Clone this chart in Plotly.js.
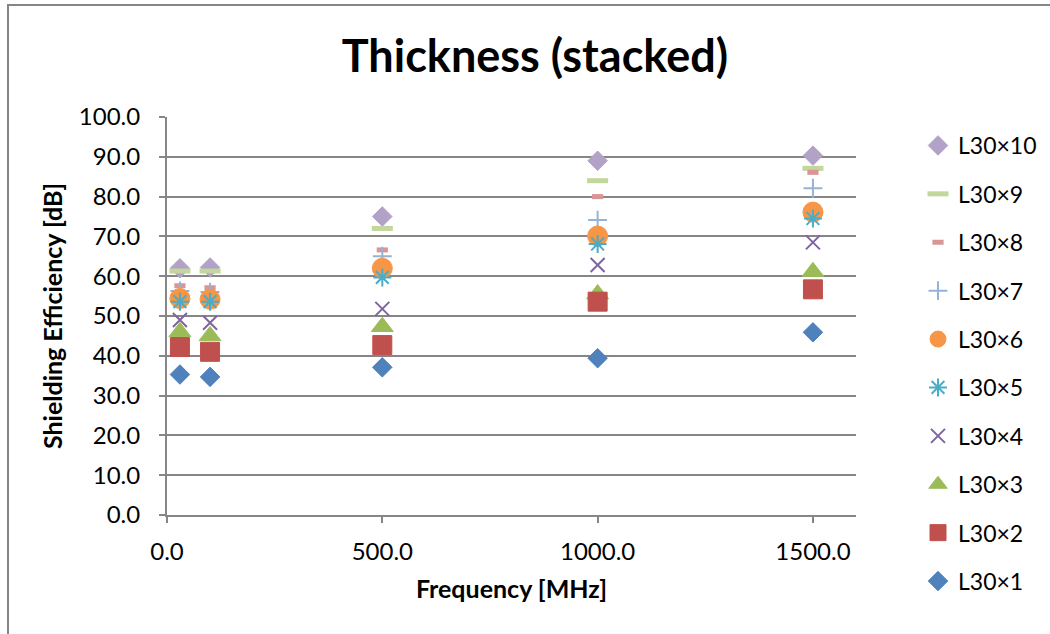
<!DOCTYPE html>
<html>
<head>
<meta charset="utf-8">
<script src="https://cdn.plot.ly/plotly-3.0.1.min.js"></script>
<style>
  html, body { margin: 0; padding: 0; overflow: hidden; background: #fff; }
  #chart { width: 1050px; height: 634px; }
  #frame { position: absolute; left: 7px; top: 4px; width: 1200px; height: 800px;
           border-left: 2px solid #868686; border-top: 2px solid #868686; pointer-events: none; }
</style>
</head>
<body>
<div id="chart"></div>
<div id="frame"></div>
<script>
// Data
const freq = [30, 100, 500, 1000, 1500];
const seriesNames = ["L30×10", "L30×9", "L30×8", "L30×7", "L30×6", "L30×5", "L30×4", "L30×3", "L30×2", "L30×1"];
const L30x10 = [62.0, 62.2, 75.0, 89.0, 90.3];
const L30x9  = [61.3, 61.3, 72.0, 84.0, 87.1];
const L30x8  = [57.6, 57.1, 66.6, 80.0, 86.1];
const L30x7  = [56.3, 56.0, 65.0, 74.1, 82.1];
const L30x6  = [54.4, 54.2, 62.0, 70.1, 76.1];
const L30x5  = [53.6, 53.6, 59.7, 68.1, 74.5];
const L30x4  = [49.0, 48.3, 51.8, 62.8, 68.5];
const L30x3  = [46.0, 45.0, 47.3, 55.5, 61.1];
const L30x2  = [42.2, 41.0, 42.7, 53.6, 56.7];
const L30x1  = [35.3, 34.7, 37.1, 39.4, 45.9];
const xTickVals = [0, 500, 1000, 1500];
const yTickVals = [0, 10, 20, 30, 40, 50, 60, 70, 80, 90, 100];

const values = [L30x10, L30x9, L30x8, L30x7, L30x6, L30x5, L30x4, L30x3, L30x2, L30x1];

const styles = [
  {symbol: "diamond",        size: 15,  color: "#B3A2C7", lw: 1},
  {symbol: "line-ew-open",   size: 15,  color: "#C3D69B", lw: 5},
  {symbol: "line-ew-open",   size: 8,   color: "#D99694", lw: 5},
  {symbol: "cross-thin-open",size: 13.5,color: "#95B3D7", lw: 2},
  {symbol: "circle",         size: 20,  color: "#F79646", lw: 1},
  {symbol: "asterisk-open",  size: 15,  color: "#4BACC6", lw: 2},
  {symbol: "x-thin-open",    size: 14,  color: "#8064A2", lw: 2},
  {symbol: "triangle-up",    size: 19,  color: "#9BBB59", lw: 1},
  {symbol: "square",         size: 19,  color: "#C0504D", lw: 1},
  {symbol: "diamond",        size: 15,  color: "#4F81BD", lw: 1}
];

const FONT = "Lato, 'Open Sans', sans-serif";

const traces = seriesNames.map((name, i) => ({
  type: "scatter",
  mode: "markers",
  name: name,
  legendgroup: "g" + i,
  x: freq,
  y: values[i],
  marker: {
    symbol: styles[i].symbol,
    size: styles[i].size,
    color: styles[i].color,
    line: {color: styles[i].color, width: styles[i].lw}
  },
  hoverinfo: "x+y+name"
}));

const ML = 167, MR = 194, MT = 117, MB = 119, W = 1050, H = 634;
const PW = W - ML - MR, PH = H - MT - MB;

const layout = {
  width: W,
  height: H,
  paper_bgcolor: "#ffffff",
  plot_bgcolor: "#ffffff",
  margin: {l: ML, r: MR, t: MT, b: MB, pad: 0, autoexpand: false},
  font: {family: FONT, size: 24, color: "#000000"},
  title: {
    text: "<b>Thickness (stacked)</b>",
    font: {family: FONT, size: 45, color: "#000000"},
    x: 0.5095, xanchor: "center", xref: "container",
    y: 0.912, yanchor: "middle", yref: "container"
  },
  xaxis: {
    range: [0, 1600],
    tickvals: xTickVals,
    tickformat: ".1f",
    ticks: "outside", ticklen: 6, tickwidth: 2, tickcolor: "#868686",
    showline: true, linecolor: "#868686", linewidth: 2,
    showgrid: false, zeroline: false,
    tickfont: {family: FONT, size: 24, color: "#000000"},
    ticklabelstandoff: 8,
    title: {text: "<b>Frequency [MHz]</b>", font: {family: FONT, size: 25, color: "#000000"}, standoff: 17}
  },
  yaxis: {
    range: [0, 100],
    tickvals: yTickVals,
    tickformat: ".1f",
    ticks: "outside", ticklen: 6, tickwidth: 2, tickcolor: "#868686",
    showline: true, linecolor: "#868686", linewidth: 2,
    showgrid: true, gridcolor: "#868686", gridwidth: 2,
    zeroline: false,
    tickfont: {family: FONT, size: 24, color: "#000000"},
    ticklabelstandoff: 14,
    title: {text: "<b>Shielding Efficiency [dB]</b>", font: {family: FONT, size: 25, color: "#000000"}, standoff: 9}
  },
  showlegend: true,
  legend: {
    x: (918 - ML) / PW, xref: "paper",
    y: (H - MB - 124) / PH, yref: "paper",
    xanchor: "left", yanchor: "top",
    font: {family: FONT, size: 23, color: "#000000"},
    traceorder: "grouped",
    tracegroupgap: 15.5,
    maxheight: 620,
    bgcolor: "rgba(0,0,0,0)",
    borderwidth: 0
  }
};

Plotly.newPlot("chart", traces, layout, {displayModeBar: false, staticPlot: true});
</script>
</body>
</html>
